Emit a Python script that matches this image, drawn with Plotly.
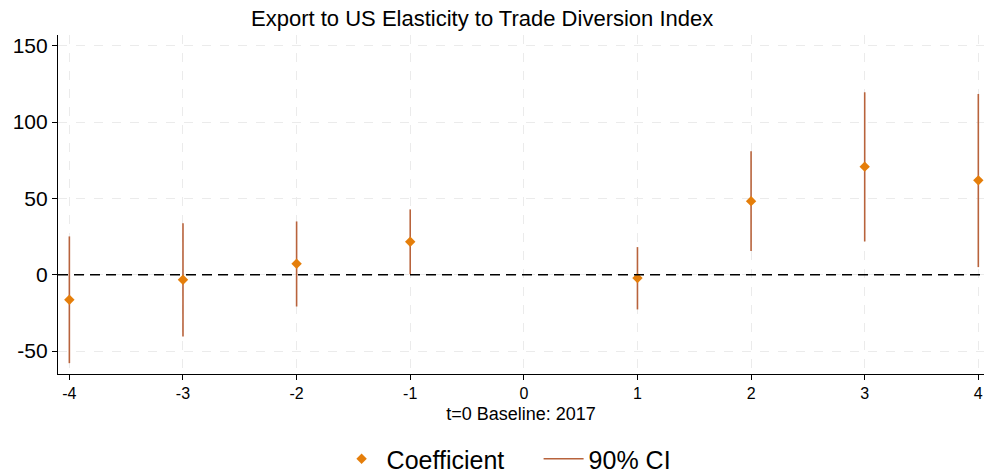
import plotly.graph_objects as go

periods = [-4, -3, -2, -1, 1, 2, 3, 4]
coef = [-16.4, -3.3, 7.2, 21.6, -2.2, 48.2, 70.8, 61.8]
ci_low = [-57.9, -40.4, -20.8, 0.4, -22.7, 15.5, 21.8, 5.0]
ci_high = [25.1, 33.8, 34.9, 42.8, 18.1, 80.8, 119.5, 118.4]
x_ticks = [-4, -3, -2, -1, 0, 1, 2, 3, 4]
y_ticks = [-50, 0, 50, 100, 150]

FONT = "Liberation Sans, Arial, Helvetica, sans-serif"
ci_color = "#b8633c"
coef_color = "#e57e0a"

ci_x, ci_y = [], []
for p, lo, hi in zip(periods, ci_low, ci_high):
    ci_x += [p, p, None]
    ci_y += [lo, hi, None]

fig = go.Figure()
fig.add_trace(go.Scatter(
    x=ci_x, y=ci_y, mode="lines", name="90% CI",
    line=dict(color=ci_color, width=1.6), legendrank=2, hoverinfo="skip",
    cliponaxis=False))
fig.add_trace(go.Scatter(
    x=periods, y=coef, mode="markers", name="Coefficient",
    marker=dict(symbol="diamond", size=8, color=coef_color), legendrank=1,
    cliponaxis=False))

fig.add_shape(type="line", xref="paper", x0=0, x1=1, yref="y", y0=0, y1=0,
              line=dict(color="black", width=1.5, dash="10px,6px"))

fig.update_layout(
    width=984, height=474,
    margin=dict(l=58, r=0, t=35, b=100, autoexpand=False),
    paper_bgcolor="white", plot_bgcolor="white",
    font=dict(family=FONT, color="black"),
    title=dict(text="Export to US Elasticity to Trade Diversion Index",
               x=0.49, xanchor="center", yref="container", y=0.962, yanchor="middle",
               font=dict(size=22, family=FONT, color="black")),
    showlegend=True,
    legend=dict(orientation="h", x=0.519, xanchor="center",
                yref="container", y=0.0316, yanchor="middle",
                font=dict(size=25, family=FONT), itemwidth=40,
                entrywidth=147, entrywidthmode="pixels",
                traceorder="normal"),
    xaxis=dict(range=[-4.1, 4.05], tickvals=x_ticks,
               ticktext=[str(v) for v in x_ticks], automargin=False,
               showgrid=True, gridcolor="#ebebeb", griddash="dash", gridwidth=1,
               zeroline=False, showline=True, linecolor="black", linewidth=1.2,
               ticks="outside", ticklen=5, tickcolor="black",
               tickfont=dict(size=16, family=FONT),
               title=dict(text="t=0 Baseline: 2017", font=dict(size=18, family=FONT), standoff=6)),
    yaxis=dict(range=[-65, 157], tickvals=y_ticks,
               ticktext=[str(v) for v in y_ticks], automargin=False,
               showgrid=True, gridcolor="#ebebeb", griddash="dash", gridwidth=1,
               zeroline=False, showline=True, linecolor="black", linewidth=1.2,
               ticks="outside", ticklen=5, tickcolor="black",
               tickfont=dict(size=21, family=FONT)),
)

fig.write_html(
    "out.html",
    config={"displayModeBar": False},
    post_script="document.body.style.margin='0';document.body.style.overflow='hidden';",
)
